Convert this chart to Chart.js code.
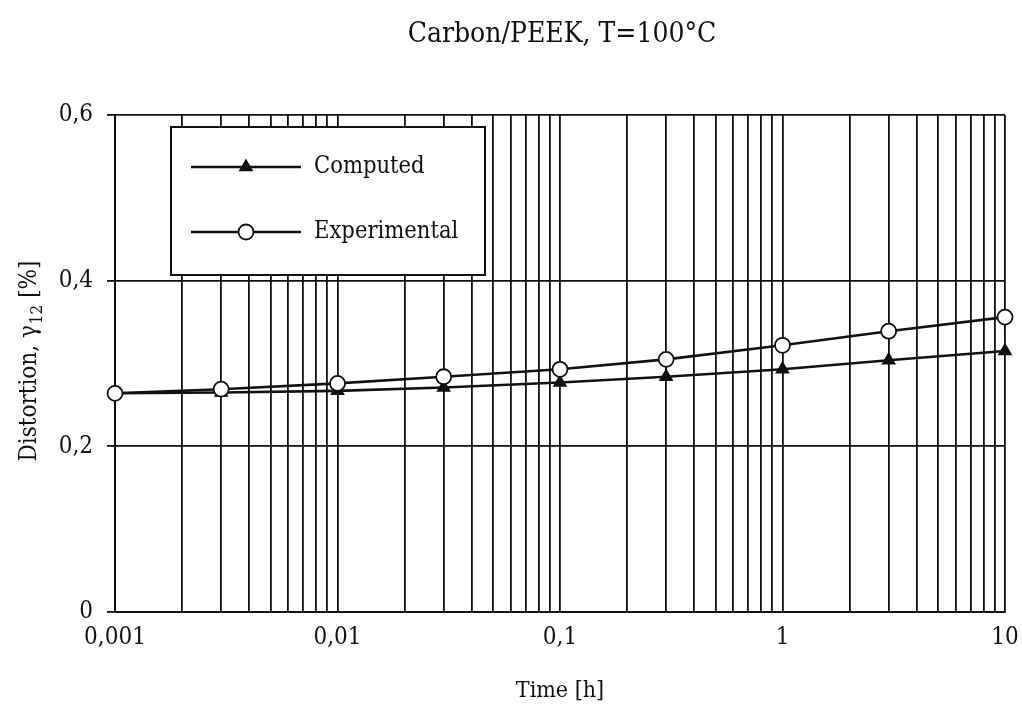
<!DOCTYPE html>
<html><head><meta charset="utf-8">
<script src="https://cdn.jsdelivr.net/npm/chart.js@4"></script>
<style>html,body{margin:0;padding:0;background:#fff;}</style>
</head><body>
<canvas id="c" width="1022" height="724"></canvas>
<script>
const chartTitle = 'Carbon/PEEK, T=100°C';
const xTitle = 'Time [h]';
const yTitleMain = 'Distortion, γ';
const yTitleSub = '12';
const yTitleEnd = ' [%]';
const seriesNames = ['Computed', 'Experimental'];
const times = [0.001, 0.003, 0.01, 0.03, 0.1, 0.3, 1, 3, 10];
const computed = [0.264, 0.265, 0.267, 0.271, 0.277, 0.284, 0.293, 0.304, 0.315];
const experimental = [0.264, 0.269, 0.276, 0.284, 0.293, 0.305, 0.322, 0.339, 0.356];
const xMajorTicks = [0.001, 0.01, 0.1, 1, 10];
const xTickLabels = ['0,001', '0,01', '0,1', '1', '10'];
const yTicks = [0, 0.2, 0.4, 0.6];
const yTickLabels = ['0', '0,2', '0,4', '0,6'];

const FONT = "'DejaVu Serif Condensed','DejaVu Serif','Liberation Serif',serif";
const INK = '#111';

// all log gridlines 1..9 x 10^k between the major ticks
const xGrid = [];
for (let e = -3; e < 1; e++) {
  for (let m = 1; m <= 9; m++) xGrid.push(m * Math.pow(10, e));
}
xGrid.push(10);

function xLabel(v) {
  for (let i = 0; i < xMajorTicks.length; i++) {
    if (Math.abs(v - xMajorTicks[i]) / xMajorTicks[i] < 1e-6) return xTickLabels[i];
  }
  return '';
}
function yLabel(v) {
  for (let i = 0; i < yTicks.length; i++) {
    if (Math.abs(v - yTicks[i]) < 1e-6) return yTickLabels[i];
  }
  return '';
}

const markerStyles = [
  { pointStyle: 'triangle', radius: 7, fill: INK, stroke: INK, bw: 1.5 },
  { pointStyle: 'circle', radius: 7.5, fill: '#fff', stroke: INK, bw: 1.8 }
];

const legendBox = {
  id: 'legendBox',
  afterDraw(chart) {
    const ctx = chart.ctx;
    const a = chart.chartArea;
    const x0 = a.left + 56, y0 = a.top + 12, w = 314, h = 148;
    ctx.save();
    ctx.fillStyle = '#fff';
    ctx.fillRect(x0, y0, w, h);
    ctx.strokeStyle = INK;
    ctx.lineWidth = 2;
    ctx.strokeRect(x0, y0, w, h);
    const rows = [y0 + 40, y0 + 105];
    for (let i = 0; i < 2; i++) {
      const y = rows[i];
      ctx.strokeStyle = INK;
      ctx.lineWidth = 2.6;
      ctx.beginPath();
      ctx.moveTo(x0 + 20, y);
      ctx.lineTo(x0 + 130, y);
      ctx.stroke();
      const ms = markerStyles[i];
      ctx.fillStyle = ms.fill;
      ctx.strokeStyle = ms.stroke;
      ctx.lineWidth = ms.bw;
      Chart.helpers.drawPoint(ctx, { pointStyle: ms.pointStyle, radius: ms.radius, rotation: 0, borderWidth: ms.bw }, x0 + 75, y);
      ctx.fillStyle = INK;
      ctx.font = '23.5px ' + FONT;
      ctx.textAlign = 'left';
      ctx.textBaseline = 'middle';
      ctx.fillText(seriesNames[i], x0 + 143, y);
    }
    ctx.restore();
  }
};

const titlePlugin = {
  id: 'titlePlugin',
  afterDraw(chart) {
    const ctx = chart.ctx;
    const a = chart.chartArea;
    ctx.save();
    ctx.fillStyle = INK;
    ctx.font = '28px ' + FONT;
    ctx.textAlign = 'center';
    ctx.textBaseline = 'middle';
    ctx.fillText(chartTitle, (a.left + a.right) / 2 + 2, 35);
    ctx.restore();
  }
};

const yTitlePlugin = {
  id: 'yTitlePlugin',
  afterDraw(chart) {
    const ctx = chart.ctx;
    const a = chart.chartArea;
    const cy = (a.top + a.bottom) / 2;
    ctx.save();
    ctx.translate(30, cy - 2);
    ctx.rotate(-Math.PI / 2);
    ctx.fillStyle = INK;
    ctx.textBaseline = 'middle';
    ctx.textAlign = 'left';
    const fMain = '24px ' + FONT, fSub = '17px ' + FONT;
    ctx.font = fMain;
    const w1 = ctx.measureText(yTitleMain).width;
    const w3 = ctx.measureText(yTitleEnd).width;
    ctx.font = fSub;
    const w2 = ctx.measureText(yTitleSub).width;
    let x = -(w1 + w2 + w3) / 2;
    ctx.font = fMain;
    ctx.fillText(yTitleMain, x, 0);
    x += w1 + 1;
    ctx.font = fSub;
    ctx.fillText(yTitleSub, x, 8);
    x += w2;
    ctx.font = fMain;
    ctx.fillText(yTitleEnd, x, 0);
    ctx.restore();
  }
};

const ctx = document.getElementById('c').getContext('2d');
new Chart(ctx, {
  type: 'line',
  data: {
    datasets: [
      {
        label: seriesNames[0],
        data: times.map((t, i) => ({ x: t, y: computed[i] })),
        borderColor: INK, borderWidth: 2.6,
        pointStyle: 'triangle', pointRadius: 7, pointBackgroundColor: INK,
        pointBorderColor: INK, pointBorderWidth: 1.5,
        tension: 0, order: 1, clip: false
      },
      {
        label: seriesNames[1],
        data: times.map((t, i) => ({ x: t, y: experimental[i] })),
        borderColor: INK, borderWidth: 2.6,
        pointStyle: 'circle', pointRadius: 7.5, pointBackgroundColor: '#fff',
        pointBorderColor: INK, pointBorderWidth: 1.8,
        tension: 0, order: 0, clip: false
      }
    ]
  },
  options: {
    responsive: false,
    animation: false,
    devicePixelRatio: 1,
    layout: { padding: { left: 10, right: 17, top: 115, bottom: 10 } },
    plugins: {
      legend: { display: false },
      tooltip: { enabled: false },
      title: { display: false }
    },
    scales: {
      x: {
        type: 'logarithmic', min: 0.001, max: 10,
        afterBuildTicks: s => { s.ticks = xGrid.map(v => ({ value: v })); },
        afterFit: s => { s.height = 102; s.paddingLeft = 0; s.paddingRight = 0; },
        ticks: {
          autoSkip: false, maxRotation: 0, minRotation: 0, padding: 11, color: INK,
          font: { family: FONT, size: 24 },
          callback: v => xLabel(v)
        },
        grid: { color: INK, lineWidth: 1.8, drawTicks: false },
        border: { color: INK, width: 2 },
        title: {
          display: true, text: xTitle, color: INK,
          font: { family: FONT, size: 23 },
          padding: { top: 4, bottom: 9 }
        }
      },
      y: {
        min: 0, max: 0.6,
        afterBuildTicks: s => { s.ticks = yTicks.map(v => ({ value: v })); },
        afterFit: s => { s.width = 105; s.paddingTop = 0; s.paddingBottom = 0; },
        ticks: {
          padding: 14, color: INK,
          font: { family: FONT, size: 24 },
          callback: v => yLabel(v)
        },
        grid: { color: INK, lineWidth: 1.8, tickLength: 8 },
        border: { color: INK, width: 2 }
      }
    }
  },
  plugins: [legendBox, titlePlugin, yTitlePlugin]
});
</script>
</body></html>
